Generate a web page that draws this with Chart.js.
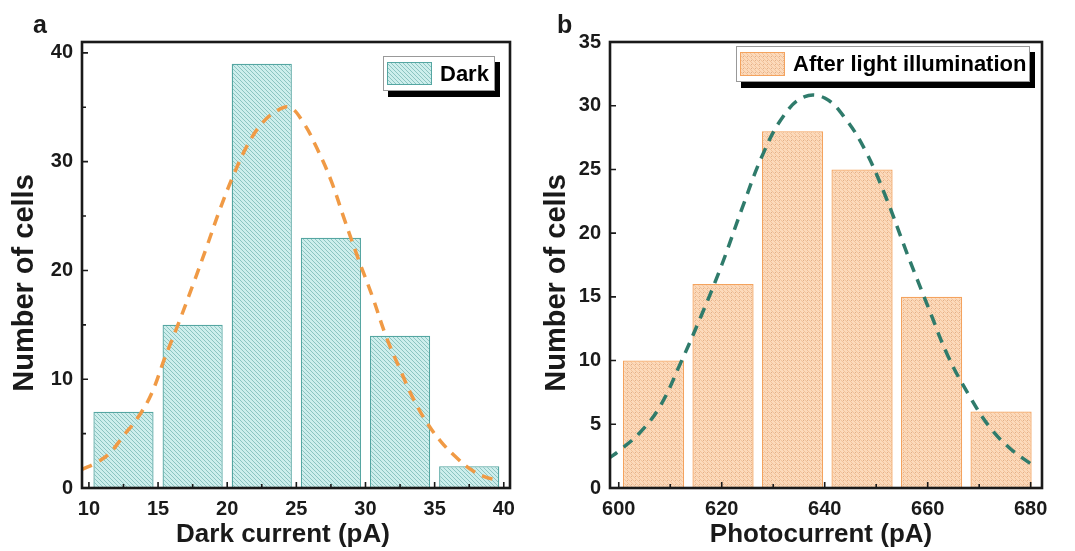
<!DOCTYPE html>
<html>
<head>
<meta charset="utf-8">
<script src="https://cdn.jsdelivr.net/npm/chart.js@4.4.1/dist/chart.umd.min.js"></script>
<style>
  html, body { margin: 0; padding: 0; background: #fff; }
  #wrap { position: relative; width: 1075px; height: 551px; }
  canvas { position: absolute; top: 0; }
  #darkChart { left: 0; }
  #photoChart { left: 537px; }
</style>
</head>
<body>
<div id="wrap">
  <canvas id="darkChart" width="537" height="551"></canvas>
  <canvas id="photoChart" width="538" height="551"></canvas>
</div>
<script>
// panel a - dark current histogram + fitted curve
const darkBins = [12.5, 17.5, 22.5, 27.5, 32.5, 37.5];
const darkCounts = [7, 15, 39, 23, 14, 2];
const darkFitX = [9.5, 10.5, 11.5, 12.5, 13.5, 14.5, 15.5, 16.5, 17.5, 18.5, 19.5, 20.5, 21.5, 22.5, 23.5, 24.5,
  25.5, 26.5, 27.5, 28.5, 29.5, 30.5, 31.5, 32.5, 33.5, 34.5, 35.5, 36.5, 37.5, 38.5, 39.5];
const darkFitY = [1.7, 2.3, 3.2, 4.8, 6.4, 8.6, 12.0, 15.2, 18.6, 22.1, 25.7, 28.9, 31.6, 33.5, 34.6, 35.0,
  33.6, 31.2, 28.3, 24.6, 21.0, 17.6, 13.9, 10.9, 8.1, 5.9, 4.2, 2.9, 1.8, 1.1, 0.7];
const darkXTicks = [10, 15, 20, 25, 30, 35, 40];
const darkXMinor = [12.5, 17.5, 22.5, 27.5, 32.5, 37.5];
const darkYTicks = [0, 10, 20, 30, 40];
const darkYMinor = [5, 15, 25, 35];

// panel b - photocurrent histogram + fitted curve
const photoBins = [606.75, 620.25, 633.75, 647.25, 660.75, 674.25];
const photoCounts = [10, 16, 28, 25, 15, 6];
const photoFitX = [598, 600, 604, 608, 612, 616, 620, 624, 628, 632, 636, 640, 644, 648, 652, 656, 660, 664, 668, 672, 676, 680];
const photoFitY = [2.3, 2.9, 4.3, 6.4, 9.8, 13.5, 17.5, 22.0, 26.2, 29.2, 30.7, 30.6, 29.0, 26.4, 22.7, 18.4, 14.3, 10.3, 7.3, 4.8, 3.1, 1.9];
const photoXTicks = [600, 620, 640, 660, 680];
const photoXMinor = [610, 630, 650, 670];
const photoYTicks = [0, 5, 10, 15, 20, 25, 30, 35];
const photoYMinor = [];

const FONT = "'Liberation Sans', Arial, sans-serif";
const INK = '#1a1a1a';

// diagonal hatch fill like the origin plot
function hatch(bg, line, dots) {
  const c = document.createElement('canvas');
  c.width = 4; c.height = 4;
  const g = c.getContext('2d');
  g.fillStyle = bg;
  g.fillRect(0, 0, 4, 4);
  g.strokeStyle = line;
  g.lineWidth = 1;
  g.beginPath();
  g.moveTo(-1, -1); g.lineTo(5, 5);
  g.moveTo(-1, 3); g.lineTo(1, 5);
  g.moveTo(3, -1); g.lineTo(5, 1);
  g.stroke();
  if (dots) {
    g.fillStyle = dots;
    g.fillRect(2, 0, 1, 1);
  }
  return g.createPattern(c, 'repeat');
}

// frame, inward tick marks, axis titles, panel letter and the boxed legend
const decor = {
  id: 'decor',
  afterDatasetsDraw(chart, args, o) {
    const ctx = chart.ctx;
    const a = chart.chartArea;
    const xs = chart.scales.x, ys = chart.scales.y;
    ctx.save();
    ctx.strokeStyle = INK;
    ctx.lineWidth = 1.6;
    ctx.beginPath();
    [[o.xMajor, 6], [o.xMinor, 4]].forEach(([vals, len]) => {
      vals.forEach(v => {
        const px = xs.getPixelForValue(v);
        ctx.moveTo(px, a.bottom); ctx.lineTo(px, a.bottom - len);
      });
    });
    [[o.yMajor, 6], [o.yMinor, 4]].forEach(([vals, len]) => {
      vals.forEach(v => {
        const py = ys.getPixelForValue(v);
        ctx.moveTo(a.left, py); ctx.lineTo(a.left + len, py);
      });
    });
    ctx.stroke();

    ctx.lineWidth = 2.6;
    ctx.strokeRect(a.left, a.top, a.right - a.left, a.bottom - a.top);

    // axis titles
    ctx.fillStyle = INK;
    ctx.textAlign = 'center';
    ctx.textBaseline = 'middle';
    ctx.font = 'bold 26px ' + FONT;
    ctx.fillText(o.xTitle, o.xTitleX, 535);
    ctx.save();
    ctx.translate(o.yTitleX, 283);
    ctx.rotate(-Math.PI / 2);
    ctx.font = 'bold 29px ' + FONT;
    ctx.fillText('Number of cells', 0, 0);
    ctx.restore();

    // panel letter
    ctx.textAlign = 'left';
    ctx.textBaseline = 'alphabetic';
    ctx.font = 'bold 25px ' + FONT;
    ctx.fillText(o.letter, o.letterX, 33);

    // legend box with drop shadow
    const L = o.legend;
    ctx.fillStyle = '#000';
    ctx.fillRect(L.x + 5, L.y + 6, L.w, L.h);
    ctx.fillStyle = '#fff';
    ctx.fillRect(L.x, L.y, L.w, L.h);
    ctx.lineWidth = 1;
    ctx.strokeStyle = '#999';
    ctx.strokeRect(L.x + 0.5, L.y + 0.5, L.w - 1, L.h - 1);
    const ds = chart.data.datasets[0];
    ctx.fillStyle = ds.backgroundColor;
    ctx.fillRect(L.x + 4, L.y + 6, 45, L.h - 12);
    ctx.strokeStyle = ds.borderColor;
    ctx.strokeRect(L.x + 4.5, L.y + 6.5, 44, L.h - 13);
    ctx.fillStyle = '#000';
    ctx.font = 'bold 22px ' + FONT;
    ctx.textBaseline = 'middle';
    ctx.fillText(ds.label, L.x + 57, L.y + L.h / 2 + 1);
    ctx.restore();
  }
};

function makeChart(id, cfg) {
  const pts = (xs, ys) => xs.map((x, i) => ({ x: x, y: ys[i] }));
  return new Chart(document.getElementById(id), {
    type: 'bar',
    data: {
      datasets: [
        {
          type: 'bar',
          label: cfg.label,
          data: pts(cfg.bins, cfg.counts),
          backgroundColor: cfg.fill,
          borderColor: cfg.edge,
          borderWidth: 1.3,
          barPercentage: cfg.barPct,
          categoryPercentage: 1,
          order: 2
        },
        {
          type: 'line',
          label: 'fit',
          data: pts(cfg.fitX, cfg.fitY),
          borderColor: cfg.fitColor,
          borderWidth: 3.5,
          borderDash: [11, 8],
          pointRadius: 0,
          tension: 0.4,
          fill: false,
          order: 1
        }
      ]
    },
    options: {
      responsive: false,
      animation: false,
      devicePixelRatio: 1,
      layout: { padding: { left: 0, top: 42, right: cfg.padRight, bottom: 0 } },
      plugins: {
        legend: { display: false },
        tooltip: { enabled: false },
        decor: {
          xMajor: cfg.xTicks, xMinor: cfg.xMinor, yMajor: cfg.yTicks, yMinor: cfg.yMinor,
          xTitle: cfg.xTitle, xTitleX: cfg.xTitleX, yTitleX: cfg.yTitleX,
          letter: cfg.letter, letterX: cfg.letterX, legend: cfg.legendBox
        }
      },
      scales: {
        x: {
          type: 'linear',
          min: cfg.xMin, max: cfg.xMax,
          offset: false,
          grid: { display: false, offset: false, drawTicks: false },
          border: { display: false },
          afterBuildTicks: s => { s.ticks = cfg.xTicks.map(v => ({ value: v })); },
          afterFit: s => { s.height = 63; },
          ticks: { color: INK, padding: 9, maxRotation: 0, autoSkip: false, font: { family: FONT, size: 20, weight: 'bold' } }
        },
        y: {
          min: 0, max: cfg.yMax,
          grid: { display: false, drawTicks: false },
          border: { display: false },
          afterBuildTicks: s => { s.ticks = cfg.yTicks.map(v => ({ value: v })); },
          afterFit: s => { s.width = cfg.yWidth; },
          ticks: { color: INK, padding: 9, autoSkip: false, font: { family: FONT, size: 20, weight: 'bold' } }
        }
      }
    },
    plugins: [decor]
  });
}

makeChart('darkChart', {
  label: 'Dark',
  bins: darkBins, counts: darkCounts, fitX: darkFitX, fitY: darkFitY,
  fill: hatch('#cdeeec', '#8cc4c1'),
  edge: '#55a6a2',
  fitColor: '#f09a45',
  barPct: 0.87,
  xMin: 9.5, xMax: 40.45, yMax: 41,
  xTicks: darkXTicks, xMinor: darkXMinor, yTicks: darkYTicks, yMinor: darkYMinor,
  xTitle: 'Dark current (pA)', xTitleX: 283, yTitleX: 25,
  yWidth: 82, padRight: 27,
  letter: 'a', letterX: 33,
  legendBox: { x: 383, y: 56, w: 112, h: 35 }
});

makeChart('photoChart', {
  label: 'After light illumination',
  bins: photoBins, counts: photoCounts, fitX: photoFitX, fitY: photoFitY,
  fill: hatch('#fcdabb', '#f3c29a', '#dfae88'),
  edge: '#f4a35e',
  fitColor: '#2f7b6b',
  barPct: 0.88,
  xMin: 598.3, xMax: 682.2, yMax: 35,
  xTicks: photoXTicks, xMinor: photoXMinor, yTicks: photoYTicks, yMinor: photoYMinor,
  xTitle: 'Photocurrent (pA)', xTitleX: 284, yTitleX: 20,
  yWidth: 73, padRight: 33,
  letter: 'b', letterX: 20,
  legendBox: { x: 199, y: 46, w: 294, h: 36 }
});
</script>
</body>
</html>
